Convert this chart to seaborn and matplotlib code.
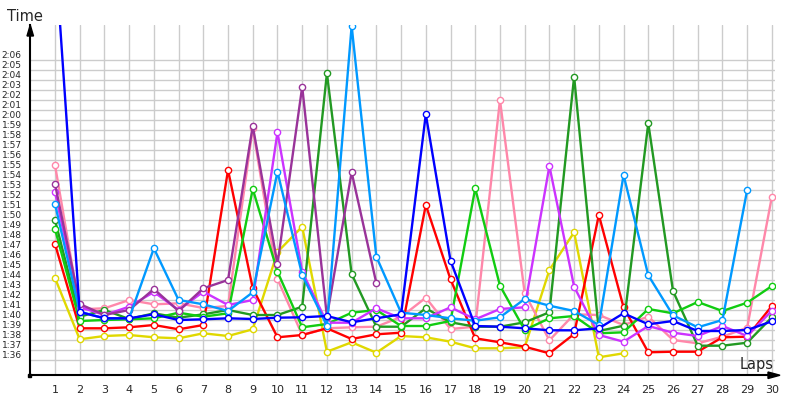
import numpy as np
import pandas as pd
import matplotlib
matplotlib.use("Agg")
import matplotlib.pyplot as plt
import seaborn as sns

laps = list(range(1, 31))
N = None

# lap times in seconds
blue = [137.0, 100.8, 100.17, 100.17, 100.57, 100.0, 100.07, 100.17, 100.1, 100.23,
        100.27, 100.4, 99.77, 100.17, 100.57, 120.57, 105.93, 99.4, 99.33, 99.17,
        98.97, 98.97, 99.17, 100.67, 99.57, 99.9, 98.9, 98.9, 99.0, 99.87]
red = [107.6, 99.17, 99.17, 99.27, 99.5, 99.07, 99.5, 115.0, 103.17, 98.27,
       98.5, 99.17, 98.1, 98.57, 98.73, 111.5, 104.07, 98.17, 97.77, 97.33,
       96.67, 98.6, 110.5, 101.27, 96.77, 96.83, 96.83, 98.27, 98.33, 101.4]
yellow = [104.2, 98.07, 98.4, 98.5, 98.27, 98.17, 98.67, 98.4, 99.07, 106.8,
          109.33, 96.83, 97.77, 96.73, 98.4, 98.27, 97.83, 97.17, 97.17, 97.27,
          105.0, 108.77, 96.27, 96.67, N, N, N, N, N, N]
green = [109.1, 99.9, 100.0, 100.07, 100.17, 100.73, 100.33, 100.67, 113.1, 104.83,
         99.27, 99.6, 100.73, 101.0, 99.4, 99.4, 99.9, 113.17, 103.43, 99.0,
         100.17, 100.4, 98.67, 98.77, 101.1, 100.67, 101.8, 100.9, 101.73, 103.4]
darkgreen = [110.0, 100.33, 101.0, 100.1, 100.67, 100.23, 100.57, 101.0, 100.5, 100.5,
             101.33, 124.67, 104.6, 99.33, 99.33, 101.17, 99.77, 99.33, 99.33, 99.77,
             100.77, 124.33, 98.9, 99.43, 119.67, 102.9, 97.43, 97.43, 97.73, 100.27]
lightblue = [111.6, 100.83, 100.17, 100.17, 107.17, 102.0, 101.57, 100.9, 102.77, 114.83,
             104.5, 99.43, 129.4, 106.33, 100.73, 100.5, 100.17, 99.93, 100.27, 102.1,
             101.43, 100.9, 99.5, 114.5, 104.47, 100.47, 99.27, 100.0, 113.0, N]
violet = [112.8, 101.3, 100.5, 101.33, 102.8, 101.0, 102.83, 101.5, 102.0, 118.77,
          104.83, 99.73, 99.73, 101.17, 100.17, 100.17, 101.27, 100.07, 101.1, 101.27,
          115.4, 103.33, 98.5, 97.83, 99.4, 98.73, 98.4, 99.4, 98.4, 100.93]
purple = [113.6, 101.6, 100.5, 101.0, 103.1, 100.9, 103.17, 104.0, 119.4, 105.6,
          123.33, 100.33, 114.77, 103.67, N, N, N, N, N, N,
          N, N, N, N, N, N, N, N, N, N]
pink = [115.5, 101.07, 101.17, 102.0, 101.57, 101.67, 101.2, 101.4, 119.2, 104.1,
        98.5, 99.17, 99.27, 99.33, 100.3, 102.23, 99.1, 99.33, 122.0, 102.67,
        97.97, 100.57, 100.5, 99.5, 100.33, 98.0, 97.67, 98.33, 99.23, 112.33]

series = [
    ("yellow", yellow, "#E0D800"),
    ("pink", pink, "#FF88AA"),
    ("red", red, "#FF0000"),
    ("darkgreen", darkgreen, "#229922"),
    ("green", green, "#11CC11"),
    ("violet", violet, "#CC33FF"),
    ("purple", purple, "#993399"),
    ("lightblue", lightblue, "#0099FF"),
    ("blue", blue, "#0000FF"),
]

sns.set_style("white")
plt.rcParams['font.family'] = ['DejaVu Sans']

fig = plt.figure(figsize=(8, 4), dpi=100)
ax = fig.add_axes([30/800, 25/400, 745/800, 350/400])

for name, vals, col in series:
    df = pd.DataFrame({"lap": laps, "t": vals}).dropna()
    sns.lineplot(data=df, x="lap", y="t", ax=ax, color=col, linewidth=1.7,
                 marker="o", markersize=4.5, markerfacecolor="white",
                 markeredgecolor=col, markeredgewidth=1.0, errorbar=None, sort=False)

ax.set_xlim(-0.011, 30.126)
ax.set_ylim(94.5, 129.5)

yt = list(range(96, 127))
ax.set_yticks(yt)
ax.set_yticklabels([f"{s // 60}:{s % 60:02d}" for s in yt], fontsize=6.5)
for lab in ax.get_yticklabels():
    lab.set_verticalalignment("bottom")
ax.set_xticks(laps)
ax.set_xticklabels([str(l) for l in laps], fontsize=8)
ax.tick_params(axis="both", length=0)
ax.tick_params(axis="y", pad=6)
ax.tick_params(axis="x", pad=7)

ax.grid(True, color="#CCCCCC", linewidth=1)
ax.set_axisbelow(True)
ax.set_xlabel("")
ax.set_ylabel("")

for s in ["top", "right"]:
    ax.spines[s].set_visible(False)
for s in ["left", "bottom"]:
    ax.spines[s].set_color("black")
    ax.spines[s].set_linewidth(1.5)
    ax.spines[s].set_zorder(5)

# axis arrows
fig.patches.append(matplotlib.patches.Polygon(
    [[27/800, 1 - 36/400], [33.5/800, 1 - 36/400], [30.25/800, 1 - 25/400]],
    closed=True, color="black", transform=fig.transFigure))
fig.patches.append(matplotlib.patches.Polygon(
    [[768/800, 1 - 372/400], [768/800, 1 - 378.5/400], [780/800, 1 - 375.25/400]],
    closed=True, color="black", transform=fig.transFigure))
fig.add_artist(matplotlib.lines.Line2D([775/800, 770/800], [25/400, 25/400],
                                       color="black", linewidth=1.5))
fig.patches.append(matplotlib.patches.Rectangle((28.5/800, 1 - 376.5/400), 3/800, 3/400,
                                                color="black", transform=fig.transFigure))

fig.text(7/800, 1 - 21/400, "Time", fontsize=10.5, ha="left", va="baseline")
fig.text(774/800, 1 - 369/400, "Laps", fontsize=10.5, ha="right", va="baseline")

fig.savefig("out.png", dpi=100)
